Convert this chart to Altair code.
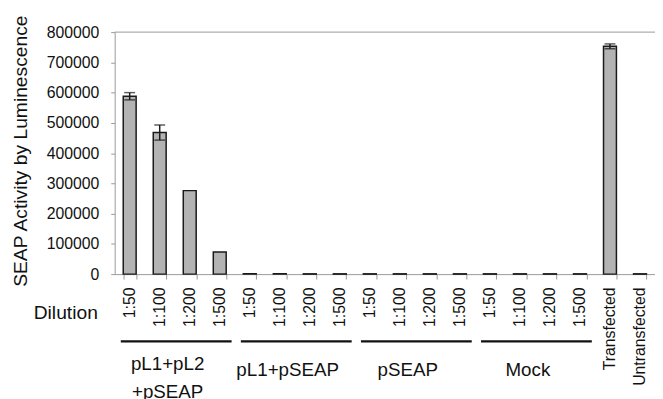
import altair as alt
import pandas as pd

# ---- data ----
group_labels = ["pL1+pL2\n+pSEAP", "pL1+pSEAP", "pSEAP", "Mock"]
tick_labels = ["1:50", "1:100", "1:200", "1:500",
               "1:50", "1:100", "1:200", "1:500",
               "1:50", "1:100", "1:200", "1:500",
               "1:50", "1:100", "1:200", "1:500",
               "Transfected", "Untransfected"]
group_index = [0, 0, 0, 0, 1, 1, 1, 1, 2, 2, 2, 2, 3, 3, 3, 3, 4, 5]
values = [588000, 468000, 276000, 73000,
          1000, 1000, 1000, 1000,
          1000, 1000, 1000, 1000,
          1000, 1000, 1000, 1000,
          753000, 1000]
errors = [12000, 25000, 0, 0,
          0, 0, 0, 0,
          0, 0, 0, 0,
          0, 0, 0, 0,
          8000, 0]
y_ticks = [0, 100000, 200000, 300000, 400000, 500000, 600000, 700000, 800000]
y_title = "SEAP Activity by Luminescence"
dilution_label = "Dilution"

keys = [f"{g}|{t}" for g, t in zip(group_index, tick_labels)]

df = pd.DataFrame({"key": keys, "value": values, "err": errors})
df["lo"] = df["value"] - df["err"]
df["hi"] = df["value"] + df["err"]
err_df = df[df["err"] > 0]

grp_df = pd.DataFrame({
    "label": group_labels,
    "start": [keys[4 * i] for i in range(4)],
    "end": [keys[4 * i + 3] for i in range(4)],
    "mid": [keys[4 * i + 1] for i in range(4)],
})

W, H = 547, 245
xscale = alt.Scale(domain=keys, paddingInner=0.57, paddingOuter=0.285, round=False)
yscale = alt.Scale(domain=[0, 800000], nice=False)

x_axis = alt.Axis(labelAngle=270, labelFontSize=16, labelColor="#111",
                  tickBand="extent", tickSize=5, labelPadding=8,
                  domainColor="#999", tickColor="#999",
                  labelExpr="split(datum.value, '|')[1]")

y_axis = alt.Axis(values=y_ticks, tickCount=9, format="d", grid=False, labelFontSize=16,
                  labelOverlap=False, labelSeparation=0,
                  labelColor="#111", domainColor="#999", tickColor="#999",
                  tickSize=4, labelPadding=12, titleFontSize=19.5,
                  titleFontWeight="normal", titleColor="#111",
                  titleAngle=270, titleX=-89, titleY=120,
                  titleAlign="center", titleBaseline="alphabetic")


def xenc(field, **kw):
    return alt.X(field, scale=xscale, sort=keys, title=None, axis=x_axis, **kw)


def yenc(field):
    return alt.Y(field, scale=yscale, title=y_title, axis=y_axis)


bars = alt.Chart(df).mark_bar(fill="#b3b3b3", stroke="#1a1a1a", strokeWidth=1.5).encode(
    x=xenc("key:N"),
    y=yenc("value:Q"),
)

err_rule = alt.Chart(err_df).mark_rule(color="#1a1a1a", strokeWidth=1.5).encode(
    x=xenc("key:N"),
    y=yenc("lo:Q"),
    y2="hi:Q",
)
cap_hi = alt.Chart(err_df).mark_tick(color="#1a1a1a", thickness=1.5, size=11).encode(
    x=xenc("key:N"),
    y=yenc("hi:Q"),
)
cap_lo = alt.Chart(err_df).mark_tick(color="#1a1a1a", thickness=1.5, size=11).encode(
    x=xenc("key:N"),
    y=yenc("lo:Q"),
)

top_frame = alt.Chart(pd.DataFrame({"a": [0]})).mark_rule(color="#999", strokeWidth=1).encode(
    x=alt.value(0), x2=alt.value(W), y=alt.value(0)
)

grp_lines = alt.Chart(grp_df).mark_rule(color="#111", strokeWidth=2.2, xOffset=-9, x2Offset=12).encode(
    x=xenc("start:N"),
    x2="end:N",
    y=alt.value(313),
)

grp_text_two = alt.Chart(grp_df.iloc[[0]]).mark_text(
    fontSize=19, lineBreak="\n", lineHeight=28, baseline="middle", align="center",
    color="#111", dx=1.5).encode(
    x=xenc("mid:N", bandPosition=1),
    y=alt.value(336),
    text="label:N",
)
grp_text_one = alt.Chart(grp_df.iloc[1:]).mark_text(
    fontSize=19, baseline="middle", align="center", color="#111", dx=1.5).encode(
    x=xenc("mid:N", bandPosition=1),
    y=alt.value(342),
    text="label:N",
)

dil_text = alt.Chart(pd.DataFrame({"t": [dilution_label]})).mark_text(
    fontSize=19.5, align="right", baseline="middle", color="#111").encode(
    x=alt.value(-17), y=alt.value(284), text="t:N"
)

chart = alt.layer(
    bars, err_rule, cap_hi, cap_lo, top_frame, grp_lines, grp_text_two, grp_text_one, dil_text
).properties(
    width=W, height=H,
    autosize=alt.AutoSizeParams(type="none"),
    padding={"left": 108, "top": 22, "right": 0, "bottom": 124},
).configure(
    font="Liberation Sans"
).configure_view(
    strokeWidth=0
)

chart.save("out.html", embed_options={"renderer": "svg", "actions": False})
